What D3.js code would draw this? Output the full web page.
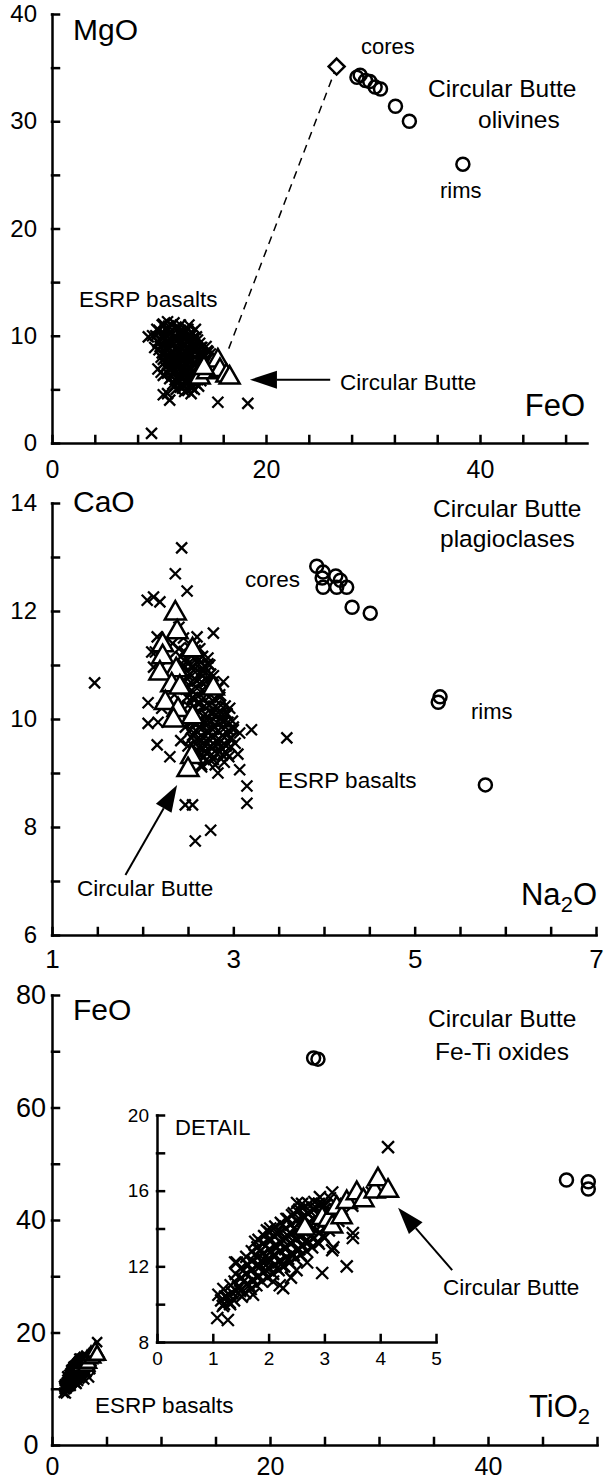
<!DOCTYPE html>
<html>
<head>
<meta charset="utf-8">
<script src="https://cdn.jsdelivr.net/npm/d3@7"></script>
<style>
  body { margin: 0; background: #fff; }
  svg { display: block; font-family: "Liberation Sans", Arial, sans-serif; }
  .axis path, .axis line { stroke: #000; stroke-width: 2.5; stroke-linecap: square; }
  .axis text { fill: #000; }
</style>
</head>
<body>
<div id="chart"></div>
<script>
'use strict';

// ---- Panel 1: olivines, FeO (x) vs MgO (y)
var olBasalts = [[9.0,9.9],[9.4,10.0],[9.6,8.9],[9.8,10.6],[10.3,11.0],[10.8,11.3],[11.2,11.0],[11.6,10.8],[12.0,10.5],[12.4,10.3],
  [12.8,11.0],[13.4,10.6],[10.5,10.2],[11.0,10.3],[11.5,10.0],[12.2,9.9],[12.8,10.1],[13.2,9.8],[13.6,9.6],[10.2,9.6],
  [10.7,9.4],[11.2,9.5],[11.8,9.3],[12.3,9.2],[12.9,9.3],[13.4,9.0],[14.0,8.9],[14.5,8.6],[10.0,8.7],[10.5,8.5],
  [11.0,8.8],[11.4,8.4],[11.9,8.6],[12.5,8.5],[13.0,8.4],[13.6,8.2],[14.2,8.0],[14.8,8.3],[15.2,8.0],[10.4,7.8],
  [10.9,7.6],[11.3,7.9],[11.8,7.5],[12.2,7.8],[12.7,7.6],[13.2,7.4],[13.8,7.6],[14.4,7.3],[11.0,7.0],[11.5,6.8],
  [12.0,7.0],[12.5,6.7],[13.0,6.9],[13.5,6.5],[14.0,6.8],[11.2,6.2],[11.7,6.0],[12.3,6.3],[12.8,5.9],[13.3,6.1],
  [13.9,5.8],[11.5,5.4],[12.0,5.2],[12.6,5.5],[13.1,5.1],[13.7,5.3],[12.4,4.8],[13.0,4.6],[10.2,6.6],[10.4,6.3],
  [9.9,6.9],[10.4,4.5],[10.8,4.6],[11.0,4.0],[9.3,0.9],[15.5,3.8],[18.3,3.7],[11.6,9.8],[12.1,8.1],[12.6,7.2],
  [10.4,11.1],[10.9,10.9],[11.4,11.2],[12.0,11.0],[10.0,10.5],[10.6,10.6],[11.1,10.4],[11.7,10.6],[12.2,10.4],[12.7,10.6],
  [13.1,10.3],[9.7,10.0],[10.3,9.9],[10.9,10.1],[11.4,9.9],[12.0,10.0],[12.6,9.8],[13.0,10.0],[13.5,9.9],[9.9,9.4],
  [10.5,9.6],[11.0,9.4],[11.6,9.5],[12.1,9.6],[12.7,9.4],[13.2,9.5],[13.8,9.3],[10.1,9.0],[10.6,8.9],[11.2,9.1],
  [11.7,8.9],[12.3,9.0],[12.8,8.8],[13.3,9.1],[13.9,8.9],[14.4,9.0],[10.3,8.4],[10.8,8.6],[11.3,8.5],[11.8,8.3],
  [12.4,8.6],[12.9,8.5],[13.4,8.6],[14.0,8.4],[14.6,8.5],[10.2,8.0],[10.7,8.1],[11.2,7.9],[11.7,8.0],[12.3,8.1],
  [12.8,7.9],[13.3,8.0],[13.9,8.1],[14.5,7.9],[10.5,7.5],[11.0,7.4],[11.5,7.6],[12.0,7.4],[12.5,7.5],[13.0,7.6],
  [13.5,7.4],[14.1,7.5],[10.6,7.1],[11.1,6.9],[11.6,7.1],[12.2,6.9],[12.7,7.0],[13.2,6.8],[13.7,7.1],[10.8,6.5],
  [11.3,6.6],[11.9,6.4],[12.4,6.5],[12.9,6.4],[13.4,6.6],[13.9,6.4],[11.0,6.0],[11.5,5.9],[12.0,6.1],[12.5,5.9],
  [13.0,6.0],[13.6,5.9],[11.3,5.5],[11.8,5.6],[12.3,5.4],[12.9,5.5],[13.4,5.6],[11.6,5.0],[12.2,5.1],[12.7,4.9],[13.3,5.0]];
var olButte = [[13.8,6.1],[14.5,6.6],[15.0,7.3],[15.5,7.7],[15.7,6.8],[16.3,6.3],[16.6,6.1],[14.2,7.0]];
var olCrystals = [[28.5,34.1],[28.8,34.3],[29.3,33.8],[29.7,33.7],[30.2,33.2],[30.7,33.0],[32.1,31.4],[33.4,30.0],[38.4,26.0]];
var olEquilibrium = [[26.6,35.1]];
var olTieLine = [[26.6,35.1],[16.4,8.5]];
var olXTicks = [0,4,8,12,16,20,24,28,32,36,40,44,48];
var olXLabels = [0,20,40];
var olYTicks = [0,5,10,15,20,25,30,35,40];
var olYLabels = [0,10,20,30,40];

// ---- Panel 2: plagioclases, Na2O (x) vs CaO (y)
var plBasalts = [[2.50,9.50],[2.55,9.70],[2.60,9.40],[2.62,9.85],[2.65,9.60],[2.68,9.30],[2.70,10.0],[2.72,9.75],[2.75,9.50],[2.78,9.25],
  [2.80,9.85],[2.82,9.60],[2.85,9.40],[2.88,9.70],[2.90,9.95],[2.92,9.50],[2.95,9.30],[2.98,9.65],[3.00,9.85],[2.58,10.10],
  [2.63,10.30],[2.68,10.50],[2.73,10.25],[2.77,10.10],[2.83,10.20],[2.87,10.05],[2.60,10.70],[2.65,10.90],[2.55,10.40],[2.50,10.80],
  [2.45,11.00],[2.52,11.20],[2.47,9.85],[2.42,9.60],[2.40,10.20],[2.35,10.45],[2.30,10.70],[2.28,11.10],[2.33,11.40],[2.40,11.70],
  [2.45,11.50],[2.57,11.35],[2.62,11.10],[2.70,10.75],[2.75,10.60],[2.78,10.80],[2.85,10.45],[2.93,10.10],[3.02,9.55],[3.05,9.35],
  [2.72,9.20],[2.65,9.15],[2.58,9.25],[2.80,9.15],[2.90,9.20],[2.55,9.95],[2.67,9.45],[2.76,9.68],[2.84,9.55],[2.70,9.88],
  [1.47,10.67],[2.43,13.17],[2.36,12.69],[2.49,12.37],[2.78,11.59],[2.72,11.13],[2.89,10.69],[2.96,10.20],[3.20,9.80],[3.07,9.74],
  [3.59,9.65],[3.07,9.06],[3.15,8.76],[3.15,8.44],[2.47,8.41],[2.55,8.41],[2.58,7.74],[2.75,7.94],[2.83,9.00],[2.65,9.11],
  [2.30,9.30],[2.16,9.52],[2.06,9.92],[2.06,10.30],[2.05,12.20],[2.12,12.26],[2.19,12.17],[2.16,11.52],[2.10,11.24],[2.12,10.96],
  [2.60,11.52],[2.74,11.00],[2.17,9.94],[2.21,10.20],[2.14,11.24],
  [2.40,11.30],[2.46,11.25],[2.52,11.32],[2.58,11.27],[2.63,11.30],[2.42,11.15],[2.48,11.12],[2.54,11.17],[2.60,11.13],[2.66,11.16],
  [2.44,10.98],[2.50,11.02],[2.56,10.97],[2.62,11.01],[2.68,10.98],[2.72,11.02],[2.46,10.85],[2.52,10.83],[2.58,10.87],[2.64,10.84],
  [2.70,10.86],[2.75,10.83],[2.47,10.70],[2.53,10.68],[2.59,10.72],[2.65,10.69],[2.71,10.71],[2.77,10.68],[2.48,10.55],[2.54,10.53],
  [2.60,10.57],[2.66,10.54],[2.72,10.56],[2.78,10.53],[2.83,10.56],[2.49,10.40],[2.55,10.38],[2.61,10.42],[2.67,10.39],[2.73,10.41],
  [2.79,10.38],[2.85,10.40],[2.50,10.25],[2.56,10.23],[2.62,10.27],[2.68,10.24],[2.74,10.26],[2.80,10.23],[2.86,10.26],[2.91,10.24],
  [2.51,10.10],[2.57,10.08],[2.63,10.12],[2.69,10.09],[2.75,10.11],[2.81,10.08],[2.87,10.11],[2.93,10.09],[2.52,9.95],[2.58,9.93],
  [2.64,9.97],[2.70,9.94],[2.76,9.96],[2.82,9.93],[2.88,9.96],[2.94,9.94],[2.99,9.96],[2.53,9.80],[2.59,9.78],[2.65,9.82],
  [2.71,9.79],[2.77,9.81],[2.83,9.78],[2.89,9.81],[2.95,9.79],[3.00,9.80],[2.54,9.65],[2.60,9.63],[2.66,9.67],[2.72,9.64],
  [2.78,9.66],[2.84,9.63],[2.90,9.66],[2.96,9.64],[2.56,9.50],[2.62,9.48],[2.68,9.52],[2.74,9.49],[2.80,9.51],[2.86,9.48],
  [2.92,9.51],[2.97,9.49],[2.58,9.35],[2.64,9.33],[2.70,9.37],[2.76,9.34],[2.82,9.36],[2.88,9.33],[2.93,9.36]];
var plButte = [[2.36,11.96],[2.38,11.61],[2.55,11.28],[2.22,11.37],[2.22,11.15],[2.37,10.91],[2.19,10.85],[2.32,10.63],[2.41,10.59],
  [2.78,10.57],[2.25,10.30],[2.39,10.17],[2.55,10.04],[2.34,9.98],[2.54,9.30],[2.50,9.06]];
var plCrystals = [[3.92,12.83],[3.99,12.72],[3.98,12.61],[4.13,12.65],[4.18,12.57],[3.99,12.44],[4.14,12.44],[4.25,12.44],[4.31,12.07],
  [4.51,11.96],[5.28,10.41],[5.26,10.31],[5.78,8.78]];
var plXTicks = [1,1.5,2,2.5,3,3.5,4,4.5,5,5.5,6,6.5,7];
var plXLabels = [1,3,5,7];
var plYTicks = [6,7,8,9,10,11,12,13,14];
var plYLabels = [6,8,10,12,14];

// ---- Panel 3: Fe-Ti oxides, TiO2 (x) vs FeO (y)
var oxBasalts = [[1.08,9.27],[1.27,9.16],[1.10,10.5],[1.15,10.2],[1.20,10.0],[1.25,10.4],[1.30,10.1],[1.35,10.6],[1.40,12.2],[1.63,12.1],
  [1.76,13.3],[2.03,14.0],[2.08,11.2],[2.26,10.85],[1.49,10.7],[1.72,10.5],[1.45,10.9],[1.55,11.2],[1.60,11.6],[1.65,11.0],
  [1.70,11.8],[1.80,11.4],[1.85,12.0],[1.90,12.4],[1.95,11.8],[2.00,12.2],[2.05,12.8],[2.10,12.5],[2.15,13.0],[2.20,12.3],
  [2.25,13.4],[2.30,12.9],[2.35,13.6],[2.40,13.2],[2.45,14.0],[2.50,13.5],[2.55,14.3],[2.60,13.9],[2.65,14.6],[2.70,14.2],
  [2.75,14.9],[2.80,14.5],[2.85,15.1],[2.90,14.8],[2.95,15.3],[3.00,15.0],[1.85,12.8],[1.95,13.1],[2.05,13.4],[2.15,13.8],
  [2.25,14.2],[2.35,14.5],[2.45,14.8],[2.55,15.0],[2.60,15.3],[2.15,11.9],[2.25,12.0],[2.35,12.4],[2.45,12.6],[2.55,12.9],
  [2.65,13.3],[2.75,13.6],[2.85,13.9],[1.75,12.6],[1.55,11.8],[2.96,11.65],[3.40,12.0],[3.14,12.86],[3.51,13.76],[3.16,13.0],
  [4.14,18.3],[2.40,11.4],[2.50,11.8],[2.20,11.0],[3.05,14.1],[3.25,14.4],[3.50,15.2],[3.70,15.6],[3.85,15.9],[3.00,13.5],
  [2.90,13.2],[3.20,15.3],[3.10,15.6],[1.97,13.9],[2.51,15.35],[2.92,15.66],[3.14,15.9],[2.69,12.2],[3.51,13.5],[1.43,12.2],
  [1.18,9.9],[1.22,10.4],[1.19,10.8],[1.31,10.0],[1.29,10.5],[1.32,11.0],[1.38,10.2],[1.42,10.7],[1.39,11.2],[1.41,11.6],
  [1.52,10.4],[1.48,10.9],[1.51,11.4],[1.50,11.9],[1.58,10.6],[1.62,11.1],[1.59,11.6],[1.61,12.1],[1.60,12.5],[1.68,10.8],
  [1.72,11.3],[1.69,11.8],[1.71,12.3],[1.70,12.8],[1.78,11.0],[1.82,11.5],[1.79,12.0],[1.81,12.5],[1.80,13.0],[1.82,13.4],
  [1.88,11.2],[1.92,11.7],[1.89,12.2],[1.91,12.7],[1.90,13.2],[1.92,13.6],[1.98,11.4],[2.02,11.9],[1.99,12.4],[2.01,12.9],
  [2.00,13.4],[2.02,13.8],[2.08,11.6],[2.12,12.1],[2.09,12.6],[2.11,13.1],[2.10,13.6],[2.12,14.1],[2.18,11.8],[2.22,12.3],
  [2.19,12.8],[2.21,13.3],[2.20,13.8],[2.22,14.3],[2.28,12.0],[2.32,12.5],[2.29,13.0],[2.31,13.5],[2.30,14.0],[2.32,14.5],
  [2.38,12.2],[2.42,12.7],[2.39,13.2],[2.41,13.7],[2.40,14.2],[2.42,14.7],[2.48,12.4],[2.52,12.9],[2.49,13.4],[2.51,13.9],
  [2.50,14.4],[2.52,14.9],[2.58,12.6],[2.62,13.1],[2.59,13.6],[2.61,14.1],[2.60,14.6],[2.62,15.1],[2.68,12.8],[2.72,13.3],
  [2.69,13.8],[2.71,14.3],[2.70,14.8],[2.72,15.3],[2.78,13.0],[2.82,13.5],[2.79,14.0],[2.81,14.5],[2.80,15.0],[2.82,15.4],
  [2.88,13.3],[2.92,13.8],[2.89,14.3],[2.91,14.8],[2.90,15.3],[2.98,13.6],[3.02,14.1],[3.00,14.6],[3.01,15.2],[3.08,13.9],
  [3.12,14.4],[3.10,14.9],[3.18,14.2],[3.22,14.7],[3.20,15.0]];
var oxButte = [[2.65,14.0],[2.96,14.55],[3.07,14.45],[3.14,14.1],[3.22,15.1],[3.31,14.6],[3.40,15.4],[3.58,15.87],[3.70,15.5],
  [3.90,15.95],[3.96,16.6],[4.14,16.0]];
var oxCrystals = [[24.0,68.8],[24.4,68.6],[47.2,47.1],[49.2,46.8],[49.2,45.5]];
var oxXTicks = [0,5,10,15,20,25,30,35,40,45,50];
var oxXLabels = [0,20,40];
var oxYTicks = [0,10,20,30,40,50,60,70,80];
var oxYLabels = [0,20,40,60,80];
var detailXTicks = [0,1,2,3,4,5];
var detailXLabels = [0,1,2,3,4,5];
var detailYTicks = [8,10,12,14,16,18,20];
var detailYLabels = [8,12,16,20];

(function() {
  var w = 604;
  var h = 1483;
  var tickLen = 7;

  var svg = d3.select("#chart")
    .append("svg")
    .attr("width", w)
    .attr("height", h);

  svg.append("rect").attr("width", w).attr("height", h).attr("fill", "#fff");

  // opts: x/y font size, x/y padding, optional centre for y labels
  var drawAxes = function(x, y, xt, xl, yt, yl, opts) {
    var fmt = function(labels) {
      return function(d) { return labels.indexOf(d) >= 0 ? d : ""; };
    };
    svg.append("g")
      .attr("class", "axis")
      .attr("font-family", null)
      .attr("transform", "translate(0," + y.range()[0] + ")")
      .call(d3.axisBottom(x).tickValues(xt).tickFormat(fmt(xl))
        .tickSizeInner(-tickLen).tickSizeOuter(0).tickPadding(opts.padX))
      .selectAll("text").attr("font-size", opts.fx);
    var ya = svg.append("g")
      .attr("class", "axis")
      .attr("font-family", null)
      .attr("transform", "translate(" + x.range()[0] + ",0)")
      .call(d3.axisLeft(y).tickValues(yt).tickFormat(fmt(yl))
        .tickSizeInner(-tickLen).tickSizeOuter(0).tickPadding(opts.padY));
    ya.selectAll("text").attr("font-size", opts.fy);
    if (opts.centerY) {
      ya.selectAll("text").attr("text-anchor", "middle").attr("x", opts.centerY);
    }
  };

  var drawCrosses = function(data, x, y, r) {
    svg.append("g")
      .selectAll("path")
      .data(data)
      .enter()
      .append("path")
      .attr("d", "M" + (-r) + "," + (-r) + "L" + r + "," + r + "M" + (-r) + "," + r + "L" + r + "," + (-r))
      .attr("transform", function(d) { return "translate(" + x(d[0]) + "," + y(d[1]) + ")"; })
      .attr("stroke", "#000")
      .attr("stroke-width", 2.3)
      .attr("fill", "none");
  };

  var drawTriangles = function(data, x, y, s) {
    svg.append("g")
      .selectAll("path")
      .data(data)
      .enter()
      .append("path")
      .attr("d", "M0," + (-s * 1.15) + "L" + s + "," + (s * 0.6) + "L" + (-s) + "," + (s * 0.6) + "Z")
      .attr("transform", function(d) { return "translate(" + x(d[0]) + "," + y(d[1]) + ")"; })
      .attr("stroke", "#000")
      .attr("stroke-width", 2.5)
      .attr("fill", "#fff");
  };

  var drawCircles = function(data, x, y, r) {
    svg.append("g")
      .selectAll("circle")
      .data(data)
      .enter()
      .append("circle")
      .attr("cx", function(d) { return x(d[0]); })
      .attr("cy", function(d) { return y(d[1]); })
      .attr("r", r)
      .attr("stroke", "#000")
      .attr("stroke-width", 2.5)
      .attr("fill", "none");
  };

  var drawArrow = function(from, to, x, y) {
    var x1 = x(from[0]), y1 = y(from[1]), x2 = x(to[0]), y2 = y(to[1]);
    var a = Math.atan2(y2 - y1, x2 - x1);
    var len = 27, half = 9;
    var bx = x2 - len * Math.cos(a), by = y2 - len * Math.sin(a);
    svg.append("line")
      .attr("x1", x1).attr("y1", y1).attr("x2", bx).attr("y2", by)
      .attr("stroke", "#000").attr("stroke-width", 2);
    svg.append("path")
      .attr("d", "M" + x2 + "," + y2 +
        "L" + (bx + half * Math.sin(a)) + "," + (by - half * Math.cos(a)) +
        "L" + (bx - half * Math.sin(a)) + "," + (by + half * Math.cos(a)) + "Z")
      .attr("fill", "#000");
  };

  var label = function(px, py, txt, size, anchor) {
    return svg.append("text")
      .attr("x", px)
      .attr("y", py)
      .attr("font-size", size)
      .attr("text-anchor", anchor || "start")
      .text(txt);
  };

  // Panel 1 - olivines
  var x1 = d3.scaleLinear().domain([0, 50]).range([52, 587]);
  var y1 = d3.scaleLinear().domain([0, 40]).range([443, 14]);
  drawAxes(x1, y1, olXTicks, olXLabels, olYTicks, olYLabels, {fx: 25, fy: 24, padX: 17, padY: 15});
  svg.append("path")
    .attr("d", d3.line().x(function(d) { return x1(d[0]); }).y(function(d) { return y1(d[1]); })(olTieLine))
    .attr("stroke", "#000").attr("stroke-width", 1.5).attr("stroke-dasharray", "8,6").attr("fill", "none");
  drawCrosses(olBasalts, x1, y1, 5.5);
  drawTriangles(olButte, x1, y1, 10);
  drawCircles(olCrystals, x1, y1, 6.5);
  svg.append("g")
    .selectAll("path")
    .data(olEquilibrium)
    .enter()
    .append("path")
    .attr("d", "M0,-8L8,0L0,8L-8,0Z")
    .attr("transform", function(d) { return "translate(" + x1(d[0]) + "," + y1(d[1]) + ")"; })
    .attr("stroke", "#000").attr("stroke-width", 2.5).attr("fill", "#fff");
  drawArrow([26.0, 5.9], [18.5, 5.9], x1, y1);
  label(73, 40, "MgO", 30);
  label(585, 416, "FeO", 31, "end");
  label(361, 54, "cores", 22);
  label(428, 97, "Circular Butte", 24.5);
  label(478, 128, "olivines", 24.5);
  label(440, 198, "rims", 22);
  label(79, 307, "ESRP basalts", 22.5);
  label(340, 390, "Circular Butte", 22.5);

  // Panel 2 - plagioclases
  var x2 = d3.scaleLinear().domain([1, 7]).range([52, 596]);
  var y2 = d3.scaleLinear().domain([6, 14]).range([935, 503]);
  drawAxes(x2, y2, plXTicks, plXLabels, plYTicks, plYLabels, {fx: 26, fy: 24, padX: 15, padY: 15});
  drawCrosses(plBasalts, x2, y2, 5.5);
  drawTriangles(plButte, x2, y2, 10.5);
  drawCircles(plCrystals, x2, y2, 6.5);
  drawArrow([1.81, 7.11], [2.38, 8.78], x2, y2);
  label(73, 512, "CaO", 30);
  var na = label(597, 905, "", 31, "end");
  na.append("tspan").text("Na");
  na.append("tspan").attr("font-size", 22).attr("dy", 7).text("2");
  na.append("tspan").attr("dy", -7).text("O");
  label(433, 517, "Circular Butte", 24.5);
  label(440, 547, "plagioclases", 24.5);
  label(245, 587, "cores", 22.5);
  label(471, 719, "rims", 22);
  label(278, 788, "ESRP basalts", 22.5);
  label(77, 896, "Circular Butte", 22.5);

  // Panel 3 - Fe-Ti oxides
  var x3 = d3.scaleLinear().domain([0, 50]).range([52, 597]);
  var y3 = d3.scaleLinear().domain([0, 80]).range([1445, 995]);
  drawAxes(x3, y3, oxXTicks, oxXLabels, oxYTicks, oxYLabels, {fx: 25, fy: 27, padX: 12, padY: 6, centerY: -21});
  drawCrosses(oxBasalts, x3, y3, 5);
  drawTriangles(oxButte, x3, y3, 8);
  drawCircles(oxCrystals, x3, y3, 6.5);
  label(73, 1020, "FeO", 30);
  var ti = label(590, 1417, "", 31, "end");
  ti.append("tspan").text("TiO");
  ti.append("tspan").attr("font-size", 22).attr("dy", 7).text("2");
  label(428, 1027, "Circular Butte", 24.5);
  label(435, 1060, "Fe-Ti oxides", 24.5);
  label(95, 1413, "ESRP basalts", 22.5);

  // Detail inset
  var xd = d3.scaleLinear().domain([0, 5]).range([157, 436]);
  var yd = d3.scaleLinear().domain([8, 20]).range([1342, 1115]);
  drawAxes(xd, yd, detailXTicks, detailXLabels, detailYTicks, detailYLabels, {fx: 19, fy: 19, padX: 10, padY: 8});
  drawCrosses(oxBasalts, xd, yd, 6);
  drawTriangles(oxButte, xd, yd, 10);
  drawArrow([5.29, 11.8], [4.32, 15.1], xd, yd);
  label(175, 1135, "DETAIL", 22);
  label(443, 1295, "Circular Butte", 22.5);
})();
</script>
</body>
</html>
